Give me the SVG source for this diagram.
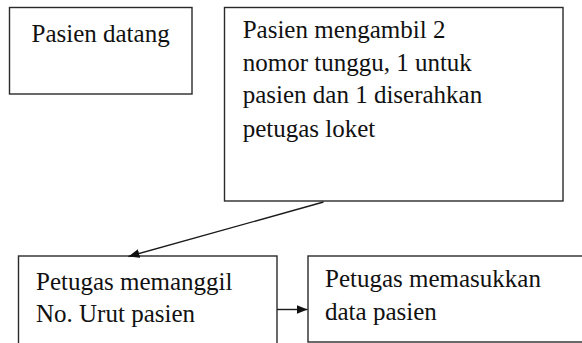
<svg xmlns="http://www.w3.org/2000/svg" width="582" height="343" viewBox="0 0 582 343">
<style>
.box{fill:#fff;stroke:#2a2a2a;stroke-width:1.4}
.t{font-family:'Liberation Serif', 'DejaVu Serif', serif;font-size:25px;fill:#111}
.c{stroke:#1a1a1a;stroke-width:1.4;fill:none}
</style>
<defs>
<marker id="ah" markerWidth="12" markerHeight="10" refX="11" refY="4.5" orient="auto" markerUnits="userSpaceOnUse">
<path d="M0,0 L11,4.5 L0,9 Z" fill="#111"/>
</marker>
</defs>
<rect width="582" height="343" fill="#fff"/>
<g id="n1">
<rect class="box" x="9.5" y="7.5" width="182.5" height="86.5"/>
<text class="t" font-family="Liberation Serif, serif" x="31.5" y="41.7">Pasien datang</text>
</g>
<g id="n2">
<rect class="box" x="224.5" y="7.5" width="338.5" height="193.5"/>
<text class="t" font-family="Liberation Serif, serif" x="242.7" y="38">Pasien mengambil 2</text>
<text class="t" font-family="Liberation Serif, serif" x="242.7" y="70.5">nomor tunggu, 1 untuk</text>
<text class="t" font-family="Liberation Serif, serif" x="242.7" y="103.3">pasien dan 1 diserahkan</text>
<text class="t" font-family="Liberation Serif, serif" x="242.7" y="136.5">petugas loket</text>
</g>
<g id="n3">
<rect class="box" x="18.5" y="256" width="258.5" height="90"/>
<text class="t" font-family="Liberation Serif, serif" x="36" y="290">Petugas memanggil</text>
<text class="t" font-family="Liberation Serif, serif" x="36" y="322">No. Urut pasien</text>
</g>
<g id="n4">
<rect class="box" x="308" y="256" width="290" height="86"/>
<text class="t" font-family="Liberation Serif, serif" x="325" y="287">Petugas memasukkan</text>
<text class="t" font-family="Liberation Serif, serif" x="325" y="320">data pasien</text>
</g>
<g id="connectors">
<line class="c" x1="323.5" y1="202" x2="128.5" y2="256.5" marker-end="url(#ah)"/>
<line class="c" x1="277" y1="309.5" x2="307.5" y2="309.5" marker-end="url(#ah)"/>
</g>
</svg>
